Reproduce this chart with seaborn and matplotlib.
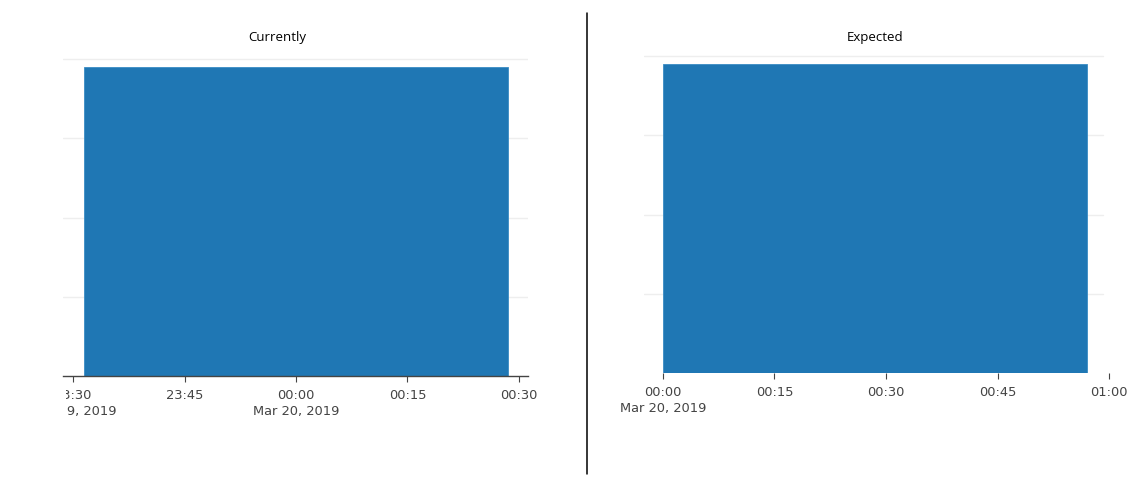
import numpy as np
import matplotlib
matplotlib.use("Agg")
import matplotlib.pyplot as plt
import seaborn as sns
from matplotlib.transforms import Bbox, TransformedBbox
from matplotlib.lines import Line2D

sns.set_theme(style="white")
plt.rcParams['font.family'] = ['DejaVu Sans']

# 数据
bar_times = np.array(['2019-03-20T00:00'], dtype='datetime64[m]')
bar_values = [3.9]
bar_width = np.timedelta64(57, 'm')

y_grid = [0, 1, 2, 3, 4]

left_ticks = np.array(['2019-03-19T23:30', '2019-03-19T23:45', '2019-03-20T00:00',
                       '2019-03-20T00:15', '2019-03-20T00:30'], dtype='datetime64[m]')
left_labels = ['23:30\nMar 19, 2019', '23:45', '00:00\nMar 20, 2019', '00:15', '00:30']

right_ticks = np.array(['2019-03-20T00:00', '2019-03-20T00:15', '2019-03-20T00:30',
                        '2019-03-20T00:45', '2019-03-20T01:00'], dtype='datetime64[m]')
right_labels = ['00:00\nMar 20, 2019', '00:15', '00:30', '00:45', '01:00']

W, H = 1147, 489
fig = plt.figure(figsize=(W / 100, H / 100), dpi=100)
fig.patch.set_facecolor('white')

bar_color = '#1f77b4'
axis_color = '#444444'
grid_color = '#eeeeee'


def style_axes(ax, ticks, labels, grid_frac=1.0):
    ax.set_facecolor('white')
    for s in ['top', 'right', 'left']:
        ax.spines[s].set_visible(False)
    ax.spines['bottom'].set_color(axis_color)
    ax.spines['bottom'].set_linewidth(1.0)
    ax.set_ylim(0, 4.05)
    ax.set_yticks([])
    for g in y_grid[1:]:
        ax.axhline(g, xmin=0, xmax=grid_frac, color=grid_color, lw=1.0, zorder=0)
    ax.set_xticks(ticks)
    ax.set_xticklabels(labels, fontsize=9.4, color=axis_color, linespacing=1.25)
    ax.tick_params(axis='x', bottom=True, length=4, width=0.8, color=axis_color, pad=5)
    ax.set_xlabel('')
    ax.set_ylabel('')
    ax.grid(False)


# 左图：Currently
ax1 = fig.add_axes([63 / W, (H - 377) / H, 465 / W, 320.8 / H])
ax1.bar(bar_times, bar_values, width=bar_width, align='center', color=bar_color,
        edgecolor='#3a8cc4', linewidth=0.6, zorder=2)
ax1.set_xlim(bar_times[0] - np.timedelta64(1881, 's'), bar_times[0] + np.timedelta64(1873, 's'))
style_axes(ax1, left_ticks, left_labels)

# 右图：Expected
ax2 = fig.add_axes([644 / W, (H - 374) / H, 469 / W, 320.8 / H])
ax2.bar(bar_times, bar_values, width=bar_width, align='edge', color=bar_color,
        edgecolor='#3a8cc4', linewidth=0.6, zorder=2)
x_right = bar_times[0] + np.timedelta64(3632, 's')
ax2.set_xlim(bar_times[0] - np.timedelta64(153, 's'), x_right)
style_axes(ax2, right_ticks, right_labels, grid_frac=(1103 - 644) / 469)
ax2.spines['bottom'].set_bounds(bar_times[0], x_right)

# 左侧标签被截断
clip = TransformedBbox(Bbox.from_extents(65.5 / W, 0, 1, 1), fig.transFigure)
for lab in ax1.get_xticklabels():
    lab.set_clip_box(clip)
    lab.set_clip_on(True)

# 标题
fig.text(277 / W, 1 - 37 / H, 'Currently', ha='center', va='center', fontsize=9.5,
         color='black', family=['Open Sans', 'DejaVu Sans'])
fig.text(875.5 / W, 1 - 37 / H, 'Expected', ha='center', va='center', fontsize=9.5,
         color='black', family=['Open Sans', 'DejaVu Sans'])

# 中间分隔线
fig.add_artist(Line2D([587 / W, 587 / W], [1 - 475 / H, 1 - 14 / H],
                      transform=fig.transFigure, color='black', lw=1.1))

fig.savefig('out.png', dpi=100)
